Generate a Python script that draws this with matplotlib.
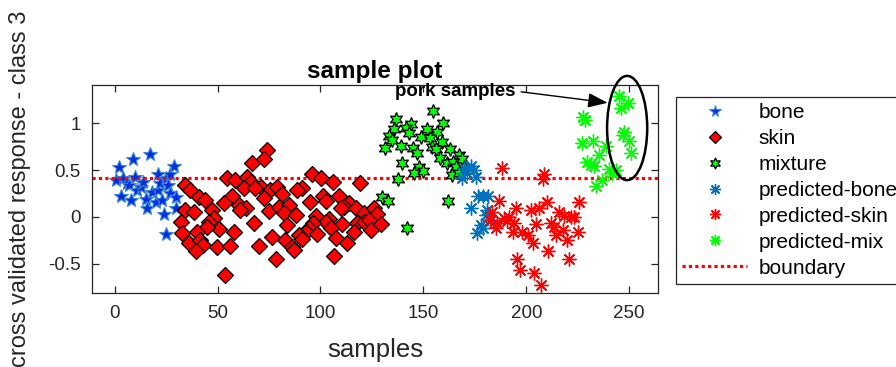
import matplotlib
matplotlib.use("Agg")
import matplotlib.pyplot as plt
from matplotlib.patches import Ellipse

plt.rcParams['font.family'] = ['Liberation Sans', 'DejaVu Sans']

# ---- data ----
bone_x = [0.5, 2, 3, 4, 6, 7, 8, 8.8, 10, 11, 12.6, 14, 15, 15.6, 17, 18, 20, 21, 21, 22,
          23, 24, 25, 25, 26, 27, 27, 28.7, 30, 30]
bone_y = [0.39, 0.53, 0.22, 0.41, 0.36, 0.34, 0.18, 0.62, 0.43, 0.29, 0.32, 0.37, 0.19, 0.09,
          0.67, 0.27, 0.16, 0.46, 0.29, 0.36, 0.18, 0.03, -0.18, 0.41, 0.34, 0.46, 0.25, 0.54,
          0.21, 0.09]

skin_x = [74.1, 72.5, 66.8, 54.6, 58.7, 64.3, 66.0, 34.4, 36.8, 62.7, 70.9, 68.4, 75.7, 78.9,
          81.4, 57.1, 40.9, 44.1, 72.5, 53.0, 60.3, 63.6, 61.1, 34.4, 38.4, 47.3, 74.9, 79.8,
          84.6, 82.2, 48.2, 45.7, 32.0, 67.6, 83.8, 50.6, 44.9, 40.0, 57.9, 32.7, 35.9, 41.7,
          42.9, 39.3, 49.8, 55.9, 70.0, 76.5, 83.0, 78.2, 53.8, 86.2,
          96.0, 100.1, 106.2, 119.2, 91.1, 88.7, 101.3, 102.5, 109.0, 94.8, 113.8, 111.4,
          117.1, 109.8, 121.1, 126.0, 127.6, 87.9, 97.6, 104.1, 102.5, 110.6, 96.5, 94.4,
          92.8, 89.5, 91.1, 98.4, 104.9, 117.9, 121.1, 123.5, 124.6, 129.2, 116.2, 107.3,
          112.7, 87.1, 106.7]
skin_y = [0.715, 0.618, 0.572, 0.418, 0.393, 0.429, 0.375, 0.340, 0.286, 0.304, 0.322, 0.304,
          0.286, 0.322, 0.240, 0.225, 0.214, 0.179, 0.197, 0.144, 0.125, 0.096, 0.072, 0.072,
          0.054, 0.072, 0.061, 0.107, 0.125, 0.036, -0.017, -0.060, -0.060, -0.071, -0.089,
          -0.135, -0.107, -0.161, -0.161, -0.178, -0.285, -0.250, -0.303, -0.368, -0.322,
          -0.314, -0.311, -0.214, -0.250, -0.453, -0.625, -0.322,
          0.454, 0.418, 0.375, 0.358, 0.311, 0.286, 0.225, 0.168, 0.222, 0.161, 0.144, 0.107,
          0.096, 0.090, 0.036, 0.096, 0.026, 0.018, 0.011, -0.025, -0.060, -0.081, -0.071,
          -0.124, -0.161, -0.196, -0.232, -0.189, -0.124, -0.071, -0.060, -0.035, -0.143,
          -0.081, -0.167, -0.225, -0.285, -0.357, -0.418]

mix_x = [154.8, 136.8, 143.8, 159.7, 135.7, 141.4, 151.9, 143.0, 156.8, 133.3, 148.7, 153.2,
         134.9, 159.2, 139.0, 131.2, 154.3, 145.1, 156.0, 162.9, 147.0, 167.3, 158.1, 168.9,
         161.3, 164.5, 139.7, 165.7, 169.8, 147.9, 150.0, 145.4, 164.1, 167.3, 137.8, 130.0,
         132.8, 162.0, 141.9]
mix_y = [1.133, 1.047, 0.990, 1.001, 0.937, 0.947, 0.940, 0.894, 0.905, 0.868, 0.857, 0.840,
         0.822, 0.804, 0.761, 0.740, 0.750, 0.733, 0.726, 0.726, 0.680, 0.661, 0.632, 0.618,
         0.572, 0.583, 0.572, 0.536, 0.536, 0.536, 0.490, 0.465, 0.447, 0.465, 0.404, 0.214,
         0.168, 0.168, -0.118]

pbone_x = [169.7, 173.2, 171.2, 174.6, 175.6, 168.7, 176.6, 179.0, 181.4, 173.0, 181.1, 180.3,
           182.7, 177.9, 175.9, 179.0]
pbone_y = [0.522, 0.543, 0.468, 0.500, 0.425, 0.415, 0.222, 0.222, 0.222, 0.090, 0.072, 0.018,
           -0.035, -0.089, -0.178, -0.121]

pskin_x = [188.1, 208.7, 207.9, 186.8, 194.9, 183.5, 202.2, 206.2, 210.0, 189.2, 191.6, 185.6,
           182.4, 185.1, 194.1, 204.6, 211.9, 216.0, 221.6, 193.3, 198.1, 200.6, 203.1, 213.3,
           214.4, 217.6, 219.7, 210.7, 220.8, 195.7, 197.0, 203.8, 207.1, 225.7, 223.3, 224.9,
           218.5, 190.5]
pskin_y = [0.525, 0.454, 0.404, 0.168, 0.096, 0.054, 0.072, 0.090, 0.161, -0.011, 0.000,
           -0.071, -0.035, -0.118, -0.071, -0.081, -0.071, 0.054, 0.000, -0.167, -0.161, -0.196,
           -0.285, -0.107, -0.196, -0.143, -0.250, -0.368, -0.453, -0.446, -0.571, -0.596,
           -0.732, 0.161, 0.000, -0.165, 0.005, -0.040]

pmix_x = [244.8, 245.9, 249.2, 227.6, 228.6, 247.6, 246.8, 250.1, 227.0, 232.2, 238.7, 235.1,
          250.8, 229.7, 231.4, 233.0, 240.3, 243.5, 241.5, 237.0, 233.8]
pmix_y = [1.297, 1.168, 1.215, 1.072, 1.036, 0.911, 0.876, 0.811, 0.787, 0.811, 0.761, 0.661,
          0.679, 0.590, 0.554, 0.547, 0.511, 0.500, 0.465, 0.393, 0.332]

boundary = 0.41
x_ticks = [0, 50, 100, 150, 200, 250]
y_ticks = [-0.5, 0, 0.5, 1]

# ---- figure ----
fig = plt.figure(figsize=(8.96, 3.67), dpi=100)
ax = fig.add_axes([0.1027, 0.2003, 0.6317, 0.5681])

ax.plot(bone_x, bone_y, linestyle='none', marker='*', markersize=10.5,
        markerfacecolor='#0030e0', markeredgecolor='#3d86d8', markeredgewidth=0.8,
        label='bone', zorder=2)
ax.axhline(boundary, color='#ff0000', linestyle=(0, (1, 1)), linewidth=2.3,
           label='boundary', zorder=2.5)
ax.plot(skin_x, skin_y, linestyle='none', marker='D', markersize=8,
        markerfacecolor='#ff0000', markeredgecolor='black', markeredgewidth=0.9,
        label='skin', zorder=3)
ax.plot(mix_x, mix_y, linestyle='none', marker=(6, 1, 0), markersize=10,
        markerfacecolor='#00ff00', markeredgecolor='black', markeredgewidth=0.9,
        label='mixture', zorder=3)
ax.plot(pbone_x, pbone_y, linestyle='none', marker=(8, 2, 0), markersize=10,
        markeredgecolor='#0072bd', markeredgewidth=1.0, label='predicted-bone', zorder=3)
ax.plot(pskin_x, pskin_y, linestyle='none', marker=(8, 2, 0), markersize=10,
        markeredgecolor='#ff0000', markeredgewidth=1.0, label='predicted-skin', zorder=3)
ax.plot(pmix_x, pmix_y, linestyle='none', marker=(8, 2, 0), markersize=10,
        markeredgecolor='#00ff00', markeredgewidth=1.0, label='predicted-mix', zorder=3)

ax.set_xlim(-11, 264)
ax.set_ylim(-0.82, 1.41)
ax.set_xticks(x_ticks)
ax.set_yticks(y_ticks)
ax.set_yticklabels(['-0.5', '0', '0.5', '1'])
ax.tick_params(direction='in', length=5, width=0.9, top=True, right=True,
               labelsize=13.5, colors='#262626', pad=8)
for s in ax.spines.values():
    s.set_color('#262626')
    s.set_linewidth(0.9)

ax.set_title('sample plot', fontsize=17.5, fontweight='bold', pad=5)
ax.set_xlabel('samples', fontsize=18.5, color='#262626', labelpad=12)
ax.set_ylabel('cross validated response - class 3', fontsize=17, color='#262626')
ax.yaxis.set_label_coords(-0.108, 0.5)

# annotation
ell = Ellipse((249.0, 0.95), 19.5, 1.115, fill=False, edgecolor='black', linewidth=1.8,
              clip_on=False, zorder=4)
ax.add_patch(ell)
ax.annotate('', xy=(239.5, 1.22), xytext=(197.5, 1.337),
            arrowprops=dict(arrowstyle='-|>,head_length=1.2,head_width=0.45', color='black',
                            lw=1.0, shrinkA=0, shrinkB=0), zorder=4)
ax.text(165.5, 1.337, 'pork samples', fontsize=13.5, fontweight='bold', ha='center',
        va='center', zorder=4)

# legend order
h, l = ax.get_legend_handles_labels()
order = ['bone', 'skin', 'mixture', 'predicted-bone', 'predicted-skin', 'predicted-mix', 'boundary']
hd = dict(zip(l, h))
leg = fig.legend([hd[k] for k in order], order, loc='upper left',
                 bbox_to_anchor=(676 / 896, 1 - 97 / 367), fontsize=15, frameon=True,
                 fancybox=False, edgecolor='#262626', framealpha=1, handlelength=3.1,
                 handletextpad=0.55, labelspacing=0.33, borderpad=0.3, borderaxespad=0,
                 markerscale=0.8)
leg.get_frame().set_linewidth(0.9)

fig.savefig('out.png', dpi=100)
